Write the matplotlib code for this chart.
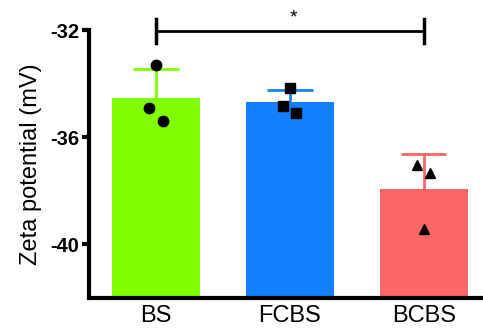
import numpy as np
import matplotlib
matplotlib.use('Agg')
import matplotlib.pyplot as plt

plt.rcParams['font.family'] = ['Liberation Sans', 'DejaVu Sans']

# data
groups = ['BS', 'FCBS', 'BCBS']
bs_pts = [-33.3, -34.91, -35.41]
fcbs_pts = [-34.18, -34.83, -35.1]
bcbs_pts = [-37.02, -37.33, -39.43]
colors = ['#80FF00', '#1380FF', '#FF6666']
markers = ['o', 's', '^']
pt_offsets = [[0.0, -0.05, 0.05], [0.0, -0.05, 0.05], [-0.05, 0.05, 0.0]]

all_pts = [bs_pts, fcbs_pts, bcbs_pts]
means = [np.mean(p) for p in all_pts]
sds = [np.std(p, ddof=1) for p in all_pts]

fig = plt.figure(figsize=(4.83, 3.34), dpi=100)
ax = fig.add_axes([0.184, 0.108, 0.818, 0.802])

x = np.arange(len(groups))
base = -42
ax.bar(x, np.array(means) - base, bottom=base, width=0.66, color=colors, zorder=2)
for i in range(len(groups)):
    # one-sided error bar (upward only)
    ax.vlines(x[i], means[i], means[i] + sds[i], color=colors[i], lw=2, zorder=1)
    ax.hlines(means[i] + sds[i], x[i] - 0.17, x[i] + 0.17, color=colors[i], lw=2, zorder=1)
    ax.plot(x[i] + np.array(pt_offsets[i]), all_pts[i], ls='none', marker=markers[i],
            color='black', ms=7.5, zorder=3)

ax.set_ylim(-42, -32)
ax.set_xlim(-0.5, 2.45)
ax.set_yticks([-32, -36, -40])
ax.set_yticklabels(['-32', '-36', '-40'], fontweight='bold', fontsize=14.5)
ax.set_xticks(x)
ax.set_xticklabels(groups, fontsize=17)
ax.tick_params(axis='x', length=0, pad=5)
ax.tick_params(axis='y', length=5, width=3, pad=2)
ax.set_ylabel('Zeta potential (mV)', fontsize=17, labelpad=6)

for s in ['top', 'right']:
    ax.spines[s].set_visible(False)
for s in ['left', 'bottom']:
    ax.spines[s].set_linewidth(3)

# significance bracket
yb = -32.05
ax.plot([0, 2], [yb, yb], color='black', lw=2, clip_on=False)
ax.plot([0, 0], [yb - 0.45, yb + 0.45], color='black', lw=2.5, clip_on=False)
ax.plot([2, 2], [yb - 0.45, yb + 0.45], color='black', lw=2.5, clip_on=False)
ax.text(1.03, yb + 0.2, '*', ha='center', va='bottom', fontsize=14, clip_on=False)

fig.savefig('out.png', dpi=100)
